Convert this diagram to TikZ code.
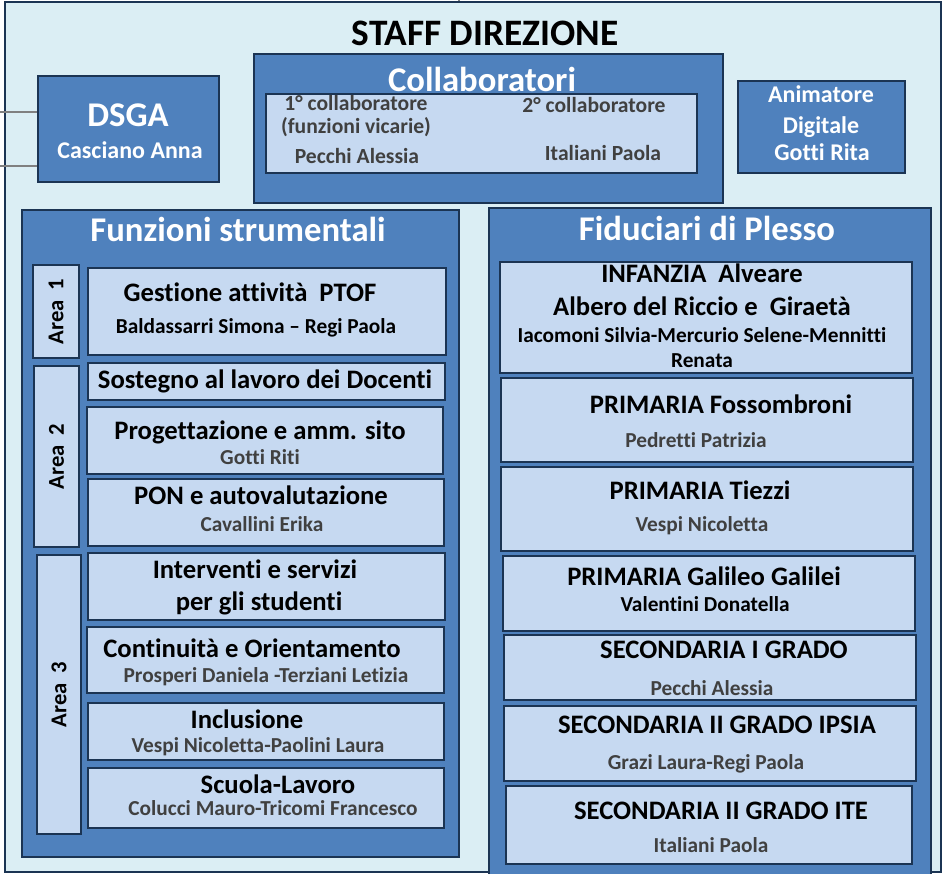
\documentclass[tikz,border=0pt]{standalone}
\usepackage{fontspec}
\setmainfont{Carlito}[Ligatures=CommonOff]
\usetikzlibrary{positioning,fit}

\definecolor{navy}{HTML}{1B3453}
\definecolor{paleblue}{HTML}{DBEEF4}
\definecolor{midblue}{HTML}{4F81BD}
\definecolor{lightblue}{HTML}{C6D9F1}
\definecolor{namegray}{HTML}{404040}
\definecolor{linkgray}{HTML}{808080}

\tikzset{
  frame/.style={draw=navy, line width=1.1pt, fill=paleblue, inner sep=0pt},
  dbox/.style={draw=navy, line width=1.3pt, fill=midblue, inner sep=0pt},
  lbox/.style={draw=navy, line width=1.3pt, fill=lightblue, inner sep=0pt},
  link/.style={draw=linkgray, line width=1pt},
  bigtitle/.style={font=\bfseries\fontsize{28}{31}\selectfont, anchor=base, inner sep=0pt},
  head/.style={font=\bfseries\fontsize{26}{29}\selectfont, text=white, anchor=base, inner sep=0pt},
  whitesub/.style={font=\bfseries\fontsize{18}{21}\selectfont, text=white, anchor=base, inner sep=0pt},
  ttl/.style={font=\bfseries\fontsize{20}{23}\selectfont, anchor=base, inner sep=0pt},
  coll/.style={font=\bfseries\fontsize{16.2}{18}\selectfont, text=namegray, anchor=base, inner sep=0pt},
  who/.style={font=\bfseries\fontsize{16}{18}\selectfont, text=namegray, anchor=base, inner sep=0pt},
  whob/.style={who, text=black},
  arealabel/.style={font=\bfseries\fontsize{17}{19}\selectfont, rotate=90, inner sep=0pt}
}

\begin{document}
\begin{tikzpicture}[x=0.75pt,y=-0.75pt]
  \useasboundingbox (0,0) rectangle (943,874);

  % outer frame
  \node[frame, fit={(5,2) (941,872)}] (staff) {};
  \node[bigtitle] (stafftitle) at (485,46) {STAFF DIREZIONE};

  % incoming lines
  \coordinate (inA) at (0,112);
  \coordinate (inB) at (0,166);
  \coordinate (inTop) at (459,0);
  \draw[link] (inTop) -- (inTop |- staff.north);

  % DSGA
  \node[dbox, fit={(38,76) (219,182)}] (dsga) {};
  \draw[link] (inA) -- (inA -| dsga.west);
  \draw[link] (inB) -- (inB -| dsga.west);
  \node[head] (dsganame) at (128,127) {DSGA};
  \node[whitesub] (dsgawho) at (130,158) {Casciano Anna};

  % Collaboratori
  \node[dbox, fit={(254,54) (723,203)}] (collab) {};
  \node[head] (collabtitle) at (482,92) {Collaboratori};
  \node[lbox, fit={(266,94) (697,173)}] (collabin) {};
  \node[coll] (first) at (356,111) {1° collaboratore};
  \node[coll] (vicar) at (356,133) {(funzioni vicarie)};
  \node[coll] (firstwho) at (357,163) {Pecchi Alessia};
  \node[coll] (second) at (594,113) {2° collaboratore};
  \node[coll] (secondwho) at (603,161) {Italiani Paola};

  % Animatore digitale
  \node[dbox, fit={(738,81) (905,173)}] (anim) {};
  \node[whitesub] (anim1) at (821,103) {Animatore};
  \node[whitesub] (anim2) at (821,133) {Digitale};
  \node[whitesub] (animwho) at (822,161) {Gotti Rita};

  % Funzioni strumentali
  \node[dbox, fit={(22,210) (459,857)}] (funz) {};
  \node[head] (funztitle) at (238,241) {Funzioni strumentali};

  \node[lbox, fit={(33,265) (79,358)}] (area1) {};
  \node[arealabel] at (area1.center) {Area\ \ 1};
  \node[lbox, fit={(34,366) (79,547)}] (area2) {};
  \node[arealabel] at (area2.center) {Area\ \ 2};
  \node[lbox, fit={(37,555) (81,834)}] (area3) {};
  \node[arealabel] at (area3.center) {Area\ \ 3};

  \node[lbox, fit={(88,268) (446,355)}] (ptof) {};
  \node[ttl] (ptoft) at (250,301) {Gestione attività\ \ PTOF};
  \node[whob] (ptofw) at (256,333) {Baldassarri Simona – Regi Paola};

  \node[lbox, fit={(88,363) (445,400)}] (doc) {};
  \node[ttl] (doct) at (265,388) {Sostegno al lavoro dei Docenti};

  \node[lbox, fit={(87,407) (443,474)}] (sito) {};
  \node[ttl] (sitot) at (260,439) {Progettazione e amm. sito};
  \node[who] (sitow) at (260,464) {Gotti Riti};

  \node[lbox, fit={(88,479) (444,546)}] (pon) {};
  \node[ttl] (pont) at (261,504) {PON e autovalutazione};
  \node[who] (ponw) at (262,531) {Cavallini Erika};

  \node[lbox, fit={(88,553) (445,620)}] (serv) {};
  \node[ttl] (servt) at (255,578) {Interventi e servizi};
  \node[ttl] (servt2) at (259,610) {per gli studenti};

  \node[lbox, fit={(87,627) (444,693)}] (cont) {};
  \node[ttl] (contt) at (252,657) {Continuità e Orientamento};
  \node[who] (contw) at (266,682) {Prosperi Daniela -Terziani Letizia};

  \node[lbox, fit={(88,703) (444,760)}] (incl) {};
  \node[ttl] (inclt) at (247,728) {Inclusione};
  \node[who] (inclw) at (258,752) {Vespi Nicoletta-Paolini Laura};

  \node[lbox, fit={(88,768) (444,828)}] (lav) {};
  \node[ttl] (lavt) at (278,793) {Scuola-Lavoro};
  \node[who] (lavw) at (273,815) {Colucci Mauro-Tricomi Francesco};

  % Fiduciari di plesso
  \node[dbox, fit={(489,208) (931,876)}] (fid) {};
  \node[head] (fidtitle) at (707,240) {Fiduciari di Plesso};

  \node[lbox, fit={(500,262) (912,373)}] (inf) {};
  \node[ttl] (inft) at (702,282) {INFANZIA\ \ Alveare};
  \node[ttl] (inft2) at (702,315) {Albero del Riccio e\ \ Giraetà};
  \node[whob] (infw) at (702,342) {Iacomoni Silvia-Mercurio Selene-Mennitti};
  \node[whob] (infw2) at (702,367) {Renata};

  \node[lbox, fit={(501,378) (913,462)}] (foss) {};
  \node[ttl] (fosst) at (721,413) {PRIMARIA Fossombroni};
  \node[who] (fossw) at (696,447) {Pedretti Patrizia};

  \node[lbox, fit={(501,467) (913,551)}] (tiez) {};
  \node[ttl] (tiezt) at (700,499) {PRIMARIA Tiezzi};
  \node[who] (tiezw) at (702,531) {Vespi Nicoletta};

  \node[lbox, fit={(503,556) (915,631)}] (gal) {};
  \node[ttl] (galt) at (704,585) {PRIMARIA Galileo Galilei};
  \node[whob] (galw) at (705,611) {Valentini Donatella};

  \node[lbox, fit={(504,635) (916,700)}] (sec1) {};
  \node[ttl] (sec1t) at (724,658) {SECONDARIA I GRADO};
  \node[who] (sec1w) at (712,695) {Pecchi Alessia};

  \node[lbox, fit={(504,706) (916,781)}] (ipsia) {};
  \node[ttl] (ipsiat) at (717,733) {SECONDARIA II GRADO IPSIA};
  \node[who] (ipsiaw) at (706,769) {Grazi Laura-Regi Paola};

  \node[lbox, fit={(506,786) (912,864)}] (ite) {};
  \node[ttl] (itet) at (721,819) {SECONDARIA II GRADO ITE};
  \node[who] (itew) at (711,852) {Italiani Paola};

\end{tikzpicture}
\end{document}
